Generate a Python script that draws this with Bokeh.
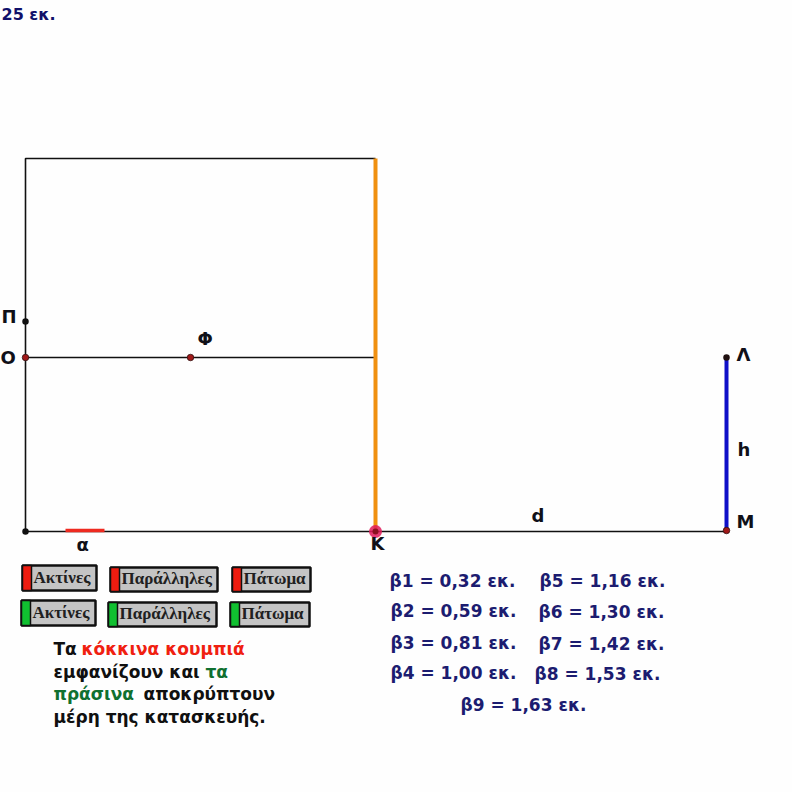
from bokeh.plotting import figure
from bokeh.embed import file_html
from bokeh.resources import INLINE
from bokeh.core.properties import value

# Geometry of the diagram (reference units)
frame_x = [25, 25, 375]
frame_y = [531, 158, 158]
mid_x = [25, 375]
mid_y = [357, 357]
base_x = [25, 726]
base_y = [531, 531]
orange_x = [375, 375]
orange_y = [158, 531]
blue_x = [726, 726]
blue_y = [357, 531]
red_x = [65, 104]
red_y = [530, 530]

black_pts_x = [25, 25]
black_pts_y = [321, 531]
dark_pts_x = [726]
dark_pts_y = [357]
maroon_pts_x = [25, 190, 726]
maroon_pts_y = [357, 357, 530]

point_labels = ["Π", "Ο", "Φ", "Λ", "h", "M", "d", "Κ", "α"]
point_label_x = [1, 0, 197, 736, 737, 736, 531, 370, 76]
point_label_y = [316, 357, 338, 354, 449, 521, 515, 543, 544]

button_names = ["Ακτίνες", "Παράλληλες", "Πάτωμα", "Ακτίνες", "Παράλληλες", "Πάτωμα"]
button_left = [22, 110, 232, 21, 108, 230]
button_right = [96, 217, 310, 95, 216, 309]
button_top = [565, 567, 567, 600, 602, 602]
button_bottom = [590, 591, 591, 625, 626, 626]
button_colors = ["#ee1c10", "#ee1c10", "#ee1c10", "#10c030", "#10c030", "#10c030"]

beta_labels = ["β1 = 0,32 εκ.", "β2 = 0,59 εκ.", "β3 = 0,81 εκ.", "β4 = 1,00 εκ.",
               "β5 = 1,16 εκ.", "β6 = 1,30 εκ.", "β7 = 1,42 εκ.", "β8 = 1,53 εκ.",
               "β9 = 1,63 εκ."]
beta_x = [389, 390, 390, 390, 539, 538, 538, 534, 460]
beta_y = [580, 610, 642, 672, 580, 611, 643, 673, 704]

note_parts = ["Τα", "κόκκινα κουμπιά", "εμφανίζουν και", "τα", "πράσινα", "αποκρύπτουν", "μέρη της κατασκευής."]
note_x = [53, 81, 53, 205, 53, 143, 53]
note_y = [648, 648, 671, 671, 693, 693, 716]
note_colors = ["#101010", "#f02010", "#101010", "#107030", "#107030", "#101010", "#101010"]

W, H = 792, 792
p = figure(width=W, height=H, x_range=(0, W), y_range=(H, 0), toolbar_location=None,
           output_backend="svg", min_border=0)
p.axis.visible = False
p.grid.visible = False
p.outline_line_color = None
p.background_fill_color = "#fefefe"
p.border_fill_color = "#fefefe"

p.line(frame_x, frame_y, line_color="#101010", line_width=1.6)
p.line(mid_x, mid_y, line_color="#101010", line_width=1.4)
p.line(base_x, base_y, line_color="#101010", line_width=1.6)
p.line(orange_x, orange_y, line_color="#f09010", line_width=4)
p.line(blue_x, blue_y, line_color="#1010c8", line_width=4)
p.line(red_x, red_y, line_color="#ee2a20", line_width=3.5)

p.scatter([orange_x[1]], [orange_y[1]], size=13, fill_color="#e01a5a", line_color=None, fill_alpha=0.85)
p.scatter([orange_x[1]], [orange_y[1]], size=6, fill_color="#8a1020", line_color=None)
p.scatter(black_pts_x, black_pts_y, size=6.5, fill_color="#101010", line_color=None)
p.scatter(dark_pts_x, dark_pts_y, size=6.5, fill_color="#201010", line_color=None)
p.scatter(maroon_pts_x, maroon_pts_y, size=6.5, fill_color="#a01818", line_color="#301010", line_width=0.8)

p.text(point_label_x, point_label_y, text=point_labels, text_font=value("DejaVu Sans"),
       text_font_style="bold", text_font_size="18px", text_color="#101018", text_baseline="middle")

p.text([1], [14], text=["25 εκ."], text_font=value("DejaVu Sans"), text_font_style="bold",
       text_font_size="16px", text_color="#10106a", text_baseline="middle")

# Buttons
p.quad(left=button_left, right=button_right, top=button_top, bottom=button_bottom,
       fill_color="#c4c4c4", line_color="#101010", line_width=2.5)
p.quad(left=button_left, right=[l + 9 for l in button_left], top=button_top, bottom=button_bottom,
       fill_color=button_colors, line_color="#101010", line_width=1.5)
p.text([l + 11 for l in button_left], [(t + b) / 2 - 1 for t, b in zip(button_top, button_bottom)],
       text=button_names, text_font=value("Liberation Serif"), text_font_style="bold",
       text_font_size="17px", text_color="#202020", text_baseline="middle")

p.text(beta_x, beta_y, text=beta_labels, text_font=value("DejaVu Sans"), text_font_style="bold",
       text_font_size="17px", text_color="#1c1c70", text_baseline="middle")

p.text(note_x, note_y, text=note_parts, text_font=value("DejaVu Sans"), text_font_size="17px",
       text_font_style="bold", text_color=note_colors, text_baseline="middle")

open("out.html", "w").write(file_html(p, INLINE))
